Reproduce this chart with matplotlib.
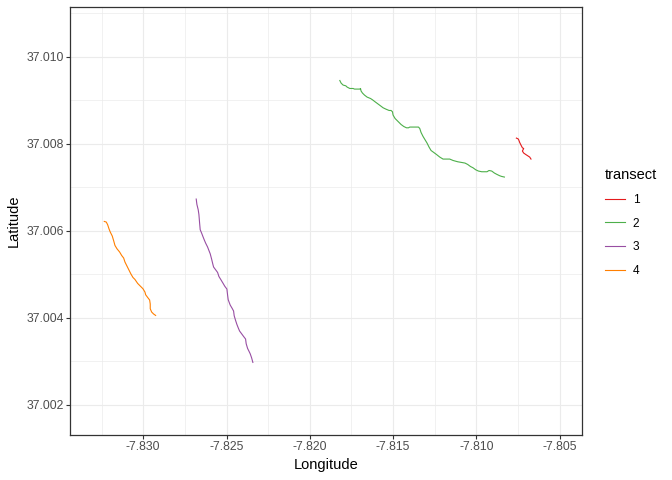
import matplotlib
matplotlib.use("Agg")
import matplotlib.pyplot as plt
from matplotlib.ticker import MultipleLocator

plt.rcParams['font.family'] = ['Liberation Sans', 'DejaVu Sans']

# transect tracks (lon, lat)
lon_1 = [-7.807596, -7.807476, -7.807398, -7.807320, -7.807236, -7.807158,
         -7.807236, -7.807158, -7.807038, -7.806918, -7.806798, -7.806720]
lat_1 = [37.008127, 37.008104, 37.008026, 37.007966, 37.007904, 37.007888,
         37.007829, 37.007783, 37.007751, 37.007721, 37.007691, 37.007645]

lon_2 = [-7.818198, -7.818120, -7.818000, -7.817838, -7.817760, -7.817598,
         -7.817400, -7.817316, -7.816998, -7.816956, -7.816920, -7.816836,
         -7.816716, -7.816560, -7.816356, -7.816236, -7.816080, -7.815918,
         -7.815756, -7.815600, -7.815438, -7.815240, -7.815120, -7.815036,
         -7.815000, -7.814880, -7.814760, -7.814640, -7.814520, -7.814358,
         -7.814196, -7.814076, -7.813998, -7.813476, -7.813398, -7.813320,
         -7.813200, -7.813080, -7.812960, -7.812840, -7.812720, -7.812558,
         -7.812396, -7.812198, -7.812000, -7.811598, -7.811400, -7.811118,
         -7.810878, -7.810680, -7.810518, -7.810356, -7.810200, -7.810038,
         -7.809876, -7.809678, -7.809480, -7.809360, -7.809240, -7.809078,
         -7.808916, -7.808760, -7.808598, -7.808478, -7.808316]
lat_2 = [37.009449, 37.009389, 37.009344, 37.009327, 37.009298, 37.009266,
         37.009266, 37.009252, 37.009252, 37.009266, 37.009206, 37.009160,
         37.009114, 37.009068, 37.009036, 37.009006, 37.008960, 37.008914,
         37.008868, 37.008823, 37.008793, 37.008761, 37.008761, 37.008731,
         37.008655, 37.008577, 37.008531, 37.008485, 37.008439, 37.008393,
         37.008363, 37.008363, 37.008380, 37.008380, 37.008347, 37.008256,
         37.008164, 37.008088, 37.008012, 37.007920, 37.007842, 37.007797,
         37.007751, 37.007691, 37.007645, 37.007645, 37.007613, 37.007583,
         37.007567, 37.007553, 37.007521, 37.007475, 37.007445, 37.007399,
         37.007370, 37.007354, 37.007354, 37.007354, 37.007383, 37.007370,
         37.007324, 37.007292, 37.007262, 37.007246, 37.007232]

lon_3 = [-7.826820, -7.826778, -7.826700, -7.826658, -7.826616, -7.826580,
         -7.826496, -7.826418, -7.826340, -7.826256, -7.826136, -7.826058,
         -7.825980, -7.825896, -7.825818, -7.825776, -7.825656, -7.825536,
         -7.825458, -7.825338, -7.825218, -7.825098, -7.824978, -7.824936,
         -7.824900, -7.824780, -7.824660, -7.824576, -7.824540, -7.824456,
         -7.824378, -7.824300, -7.824216, -7.824096, -7.823976, -7.823856,
         -7.823820, -7.823736, -7.823658, -7.823580, -7.823496, -7.823418]
lat_3 = [37.006727, 37.006603, 37.006481, 37.006373, 37.006176, 37.006022,
         37.005946, 37.005868, 37.005793, 37.005717, 37.005625, 37.005547,
         37.005471, 37.005350, 37.005226, 37.005166, 37.005104, 37.005042,
         37.004950, 37.004875, 37.004799, 37.004721, 37.004661, 37.004523,
         37.004416, 37.004294, 37.004216, 37.004156, 37.004048, 37.003940,
         37.003849, 37.003773, 37.003697, 37.003635, 37.003573, 37.003513,
         37.003406, 37.003298, 37.003238, 37.003176, 37.003084, 37.002976]

lon_4 = [-7.832340, -7.832220, -7.832136, -7.832058, -7.831980, -7.831860,
         -7.831776, -7.831698, -7.831578, -7.831416, -7.831296, -7.831176,
         -7.831098, -7.830978, -7.830858, -7.830738, -7.830618, -7.830498,
         -7.830336, -7.830180, -7.830018, -7.829898, -7.829856, -7.829736,
         -7.829616, -7.829580, -7.829580, -7.829496, -7.829376, -7.829256]
lat_4 = [37.006213, 37.006199, 37.006137, 37.006045, 37.005969, 37.005878,
         37.005770, 37.005662, 37.005586, 37.005510, 37.005432, 37.005373,
         37.005281, 37.005189, 37.005097, 37.005005, 37.004927, 37.004881,
         37.004790, 37.004730, 37.004668, 37.004592, 37.004530, 37.004468,
         37.004409, 37.004317, 37.004209, 37.004133, 37.004087, 37.004055]

transects = ['1', '2', '3', '4']
colors = ['#E41A1C', '#4DAF4A', '#984EA3', '#FF7F00']
tracks = [(lon_1, lat_1), (lon_2, lat_2), (lon_3, lat_3), (lon_4, lat_4)]

fig = plt.figure(figsize=(6.72, 4.8), dpi=100)
ax = fig.add_axes([0.1046, 0.0938, 0.7619, 0.8910])

for name, col, (lo, la) in zip(transects, colors, tracks):
    ax.plot(lo, la, color=col, lw=0.8, label=name)

ax.set_xlim(-7.83438, -7.80364)
ax.set_ylim(37.00131, 37.01113)
ax.xaxis.set_major_locator(MultipleLocator(0.005))
ax.xaxis.set_minor_locator(MultipleLocator(0.0025))
ax.yaxis.set_major_locator(MultipleLocator(0.002))
ax.yaxis.set_minor_locator(MultipleLocator(0.001))
ax.xaxis.set_major_formatter(lambda v, p: f"{v:.3f}")
ax.yaxis.set_major_formatter(lambda v, p: f"{v:.3f}")

ax.grid(which='major', color='#EBEBEB', lw=0.8)
ax.grid(which='minor', color='#EBEBEB', lw=0.5)
ax.set_axisbelow(True)
for s in ax.spines.values():
    s.set_color('#333333')
    s.set_linewidth(0.9)
ax.tick_params(which='major', length=2.6, width=0.8, color='#333333',
               labelsize=8.8, labelcolor='#4D4D4D', pad=2)
ax.tick_params(which='minor', length=0)

ax.set_xlabel('Longitude', fontsize=10.5, labelpad=3)
ax.set_ylabel('Latitude', fontsize=10.5, labelpad=4)

leg = fig.legend(loc='upper left', bbox_to_anchor=(0.884, 0.672), frameon=False,
                 title='transect', fontsize=8.6, title_fontsize=10.5,
                 handlelength=1.65, handletextpad=0.7, labelspacing=0.98,
                 alignment='left')
for h in leg.get_lines():
    h.set_linewidth(0.8)

fig.savefig('out.png', dpi=100)
